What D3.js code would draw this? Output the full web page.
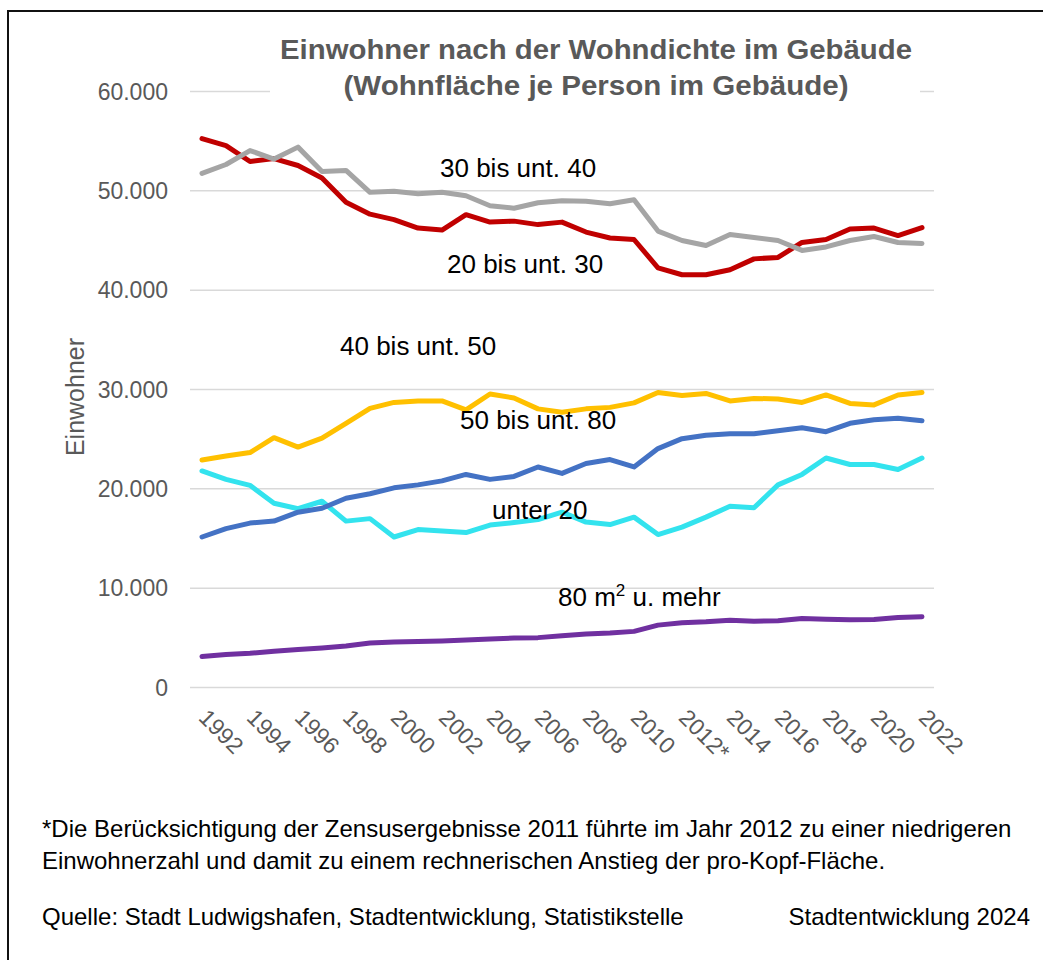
<!DOCTYPE html>
<html><head><meta charset="utf-8">
<script src="https://cdn.jsdelivr.net/npm/d3@7"></script>
<style>
body{margin:0;background:#fff}
text{font-family:Arial,"Liberation Sans",sans-serif}
</style>
</head><body>
<svg id="chart" width="1043" height="960"></svg>
<script>
// ---------------- data ----------------
const years = [1992,1993,1994,1995,1996,1997,1998,1999,2000,2001,2002,2003,2004,2005,2006,2007,2008,2009,2010,2011,2012,2013,2014,2015,2016,2017,2018,2019,2020,2021,2022];
const xTickYears = [1992,1994,1996,1998,2000,2002,2004,2006,2008,2010,2012,2014,2016,2018,2020,2022];
const xTickLabels = ["1992","1994","1996","1998","2000","2002","2004","2006","2008","2010","2012*","2014","2016","2018","2020","2022"];
const yTicks = [0,10000,20000,30000,40000,50000,60000];

const unter20 = [21750,20900,20300,18500,17950,18700,16700,16950,15100,15850,15700,15550,16300,16550,16850,17600,16600,16350,17100,15350,16100,17100,18200,18050,20350,21400,23050,22400,22400,21900,23050];
const bis30 = [55200,54500,52900,53200,52500,51250,48800,47600,47050,46200,46000,47550,46800,46900,46550,46800,45800,45200,45050,42200,41500,41500,42000,43100,43250,44750,45050,46100,46200,45450,46250];
const bis40 = [51700,52600,54000,53150,54350,51900,52000,49800,49900,49650,49800,49450,48450,48200,48750,48950,48900,48650,49050,45900,44950,44450,45550,45250,44950,43950,44300,44950,45350,44750,44650];
const bis50 = [22850,23250,23600,25100,24150,25050,26550,28050,28650,28800,28800,27900,29500,29100,28000,27650,28000,28150,28600,29650,29350,29550,28800,29050,29000,28650,29400,28550,28400,29400,29650];
const bis80 = [15100,15950,16500,16700,17600,18000,19000,19450,20050,20350,20750,21400,20900,21200,22150,21500,22500,22900,22150,24000,25000,25350,25500,25500,25800,26100,25700,26550,26900,27050,26800];
const ab80 = [3070,3270,3400,3600,3770,3930,4130,4430,4530,4570,4630,4730,4830,4930,4970,5170,5330,5430,5600,6230,6470,6570,6730,6630,6670,6900,6830,6770,6800,7000,7070];

const seriesNames = ["unter 20","20 bis unt. 30","30 bis unt. 40","40 bis unt. 50","50 bis unt. 80","80 m² u. mehr"];
const seriesValues = [unter20,bis30,bis40,bis50,bis80,ab80];
const seriesColors = ["#33E3EE","#C00000","#A5A5A5","#FFC000","#4472C4","#7030A0"];

// ---------------- layout ----------------
const svg = d3.select("#chart");
const plot = {left:190, right:934, top:91, bottom:687};
const x = d3.scalePoint().domain(years).range([plot.left, plot.right]).padding(0.5);
const y = d3.scaleLinear().domain([0,60000]).range([plot.bottom, plot.top]);
const de = d3.formatLocale({decimal:",", thousands:".", grouping:[3], currency:["","€"]});
const fmt = de.format(",d");

// frame
svg.append("rect").attr("x",8).attr("y",11).attr("width",1100).attr("height",1000)
  .attr("fill","none").attr("stroke","#111").attr("stroke-width",2);

// gridlines + y axis
const yAxis = svg.append("g").attr("transform",`translate(${plot.left},0)`)
  .call(d3.axisLeft(y).tickValues(yTicks).tickFormat(d=>fmt(d)).tickSize(-(plot.right-plot.left)).tickPadding(22));
yAxis.select(".domain").remove();
yAxis.selectAll(".tick line").attr("stroke","#D9D9D9").attr("stroke-width",1.5);
yAxis.selectAll(".tick text").attr("fill","#595959").style("font-size","23px").attr("dy","0.35em");

// x axis labels
const xAxis = svg.append("g").attr("transform",`translate(0,${plot.bottom})`)
  .call(d3.axisBottom(x).tickValues(xTickYears).tickFormat((d,i)=>xTickLabels[i]).tickSize(0));
xAxis.select(".domain").remove();
xAxis.selectAll(".tick text")
  .attr("fill","#595959").style("font-size","23px")
  .attr("text-anchor","start").attr("y",0).attr("dy",0)
  .attr("transform","translate(-5,32) rotate(45)");

// y axis title
svg.append("text").attr("transform","translate(84,397) rotate(-90)")
  .attr("text-anchor","middle").attr("fill","#595959").style("font-size","25px").text("Einwohner");

// lines
const line = d3.line().x((d,i)=>x(years[i])).y(d=>y(d));
seriesValues.forEach((vals,k)=>{
  svg.append("path").datum(vals).attr("d",line)
    .attr("fill","none").attr("stroke",seriesColors[k]).attr("stroke-width",5)
    .attr("stroke-linejoin","round").attr("stroke-linecap","round");
});

// title with white background
svg.append("rect").attr("x",270).attr("y",28).attr("width",650).attr("height",76).attr("fill","#fff");
const title = svg.append("text").attr("text-anchor","middle").attr("fill","#595959")
  .style("font-size","27px").style("font-weight","bold");
title.append("tspan").attr("x",596).attr("y",59).attr("textLength",632).attr("lengthAdjust","spacingAndGlyphs")
  .text("Einwohner nach der Wohndichte im Gebäude");
title.append("tspan").attr("x",596).attr("y",95).attr("textLength",505).attr("lengthAdjust","spacingAndGlyphs")
  .text("(Wohnfläche je Person im Gebäude)");

// series labels
const labelPos = [[492,519],[447,273],[440,177],[340,355],[460,429],[558,606]];
seriesNames.forEach((n,k)=>{
  const t = svg.append("text").attr("x",labelPos[k][0]).attr("y",labelPos[k][1])
    .attr("fill","#000").style("font-size","26px");
  if(k===5){
    t.append("tspan").text("80 m");
    t.append("tspan").attr("dy",-10).style("font-size","17px").text("2");
    t.append("tspan").attr("dy",10).text(" u. mehr");
  } else t.text(n);
});

// footnotes
const foot = svg.append("g").attr("fill","#000").style("font-size","24px");
foot.append("text").attr("x",42).attr("y",837).text("*Die Berücksichtigung der Zensusergebnisse 2011 führte im Jahr 2012 zu einer niedrigeren");
foot.append("text").attr("x",42).attr("y",869).text("Einwohnerzahl und damit zu einem rechnerischen Anstieg der pro-Kopf-Fläche.");
foot.append("text").attr("x",42).attr("y",925).text("Quelle: Stadt Ludwigshafen, Stadtentwicklung, Statistikstelle");
foot.append("text").attr("x",1030).attr("y",925).attr("text-anchor","end").text("Stadtentwicklung 2024");
</script>
</body></html>
